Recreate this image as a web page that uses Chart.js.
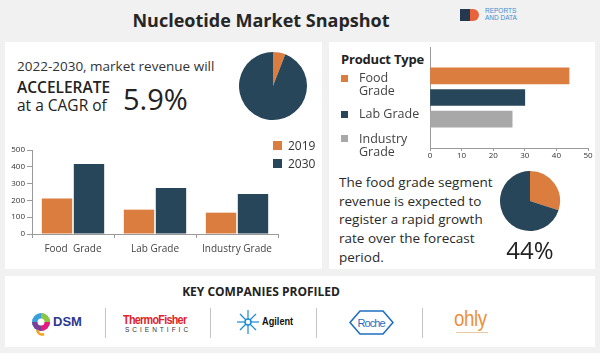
<!DOCTYPE html>
<html>
<head>
<meta charset="utf-8">
<script src="https://cdn.jsdelivr.net/npm/chart.js@4.4.0/dist/chart.umd.min.js"></script>
<style>
	html, body { margin: 0; padding: 0; }
	body { width: 600px; height: 353px; background: #f1f1f1; position: relative; overflow: hidden; font-family: 'Open Sans', sans-serif; color: #333; }
	.abs { position: absolute; }
	.panel { position: absolute; background: #fff; }
	.title { left: 0; width: 522px; top: 8px; text-align: center; font-size: 18px; font-weight: 700; color: #262626; }
	.lead { left: 17px; top: 57px; font-size: 13.5px; color: #333; }
	.accel { left: 17px; top: 78px; font-size: 15.5px; line-height: 18px; color: #222; font-weight: 600; }
	.big { left: 123px; top: 79px; font-size: 29px; color: #222; }
	.leg-sq { position: absolute; width: 9px; height: 9px; }
	.leg-tx { position: absolute; font-size: 12px; color: #333; }
	.pt-head { left: 341px; top: 50px; font-size: 13px; font-weight: 700; color: #222; letter-spacing: -0.2px; }
	.pt-sq { position: absolute; width: 7px; height: 7px; }
	.pt-tx { position: absolute; left: 359px; font-size: 12.5px; line-height: 12.5px; color: #444; }
	.para { left: 339px; top: 173px; width: 165px; font-size: 13.5px; line-height: 18.7px; color: #2a2a2a; }
	.pct { left: 500px; top: 233px; width: 60px; text-align: center; font-size: 24px; color: #222; }
	.kc { left: 0; width: 522px; top: 283px; text-align: center; font-size: 12px; font-weight: 700; color: #222; }
	.div { position: absolute; top: 308px; width: 1px; height: 30px; background: #c4c4c4; }
</style>
</head>
<body>
<div class="abs title">Nucleotide Market Snapshot</div>
<div class="abs" style="left:460px;top:9px;width:10px;height:12px;background:#24384f;"></div>
<div class="abs" style="left:470px;top:9px;width:9px;height:12px;background:#e8623b;border-radius:0 6px 6px 0;"></div>
<div class="abs" style="left:485px;top:7px;font-family:'Liberation Sans',sans-serif;font-size:6.5px;line-height:7px;color:#3d8fd1;">REPORTS<br>AND DATA</div>

<div class="panel" style="left:5px;top:42px;width:317px;height:227px;"></div>
<div class="panel" style="left:329px;top:42px;width:266px;height:227px;"></div>
<div class="panel" style="left:5px;top:276px;width:590px;height:71px;"></div>

<div class="abs lead">2022-2030, market revenue will</div>
<div class="abs accel">ACCELERATE<br><span style="font-weight:400">at a CAGR of</span></div>
<div class="abs big">5.9%</div>
<canvas id="pieCagr" class="abs" style="left:238px;top:51px;" width="70" height="70"></canvas>

<canvas id="barGrade" class="abs" style="left:0px;top:140px;" width="290" height="128"></canvas>
<div class="leg-sq" style="left:273px;top:141px;background:#da7d3e;"></div>
<div class="leg-tx" style="left:288px;top:137px;">2019</div>
<div class="leg-sq" style="left:273px;top:159px;background:#28465a;"></div>
<div class="leg-tx" style="left:288px;top:155px;">2030</div>

<div class="abs pt-head">Product Type</div>
<div class="pt-sq" style="left:341px;top:75px;background:#da7d3e;"></div>
<div class="pt-tx" style="top:72px;">Food<br>Grade</div>
<div class="pt-sq" style="left:341px;top:111px;background:#28465a;"></div>
<div class="pt-tx" style="top:108px;">Lab Grade</div>
<div class="pt-sq" style="left:341px;top:135px;background:#a8a8a8;"></div>
<div class="pt-tx" style="top:133px;">Industry<br>Grade</div>
<canvas id="barShare" class="abs" style="left:420px;top:42px;" width="175" height="120"></canvas>

<div class="abs para">The food grade segment revenue is expected to register a rapid growth rate over the forecast period.</div>
<canvas id="pieFood" class="abs" style="left:499px;top:170px;" width="62" height="62"></canvas>
<div class="abs pct">44%</div>

<div class="abs kc">KEY COMPANIES PROFILED</div>
<div class="div" style="left:105px;"></div>
<div class="div" style="left:210px;"></div>
<div class="div" style="left:316px;"></div>
<div class="div" style="left:422px;"></div>

<!-- DSM -->
<svg class="abs" style="left:30px;top:310px;" width="22" height="26" viewBox="0 0 22 26">
	<circle cx="11" cy="12" r="9" fill="#3aa0dc"/>
	<path d="M11 3 A9 9 0 0 1 20 12 L11 12 Z" fill="#8dc63f"/>
	<path d="M20 12 A9 9 0 0 1 11 21 L11 12 Z" fill="#e6197e"/>
	<path d="M11 21 A9 9 0 0 1 2 12 L11 12 Z" fill="#7b3f98"/>
	<circle cx="11" cy="12" r="3.5" fill="#fff"/>
	<path d="M7 20 Q9 26 14 24" stroke="#f7a21b" stroke-width="2.5" fill="none"/>
</svg>
<div class="abs" style="left:53px;top:314px;font-family:'Liberation Sans',sans-serif;font-size:13px;font-weight:700;color:#2b3990;">DSM</div>
<!-- Thermo Fisher -->
<div class="abs" style="left:123px;top:313px;font-family:'Liberation Sans',sans-serif;font-size:12px;font-weight:700;color:#e2232a;letter-spacing:-0.8px;transform:scaleX(0.9);transform-origin:left;">ThermoFisher</div>
<div class="abs" style="left:125px;top:326px;font-family:'Liberation Sans',sans-serif;font-size:6.5px;color:#333;letter-spacing:3px;">SCIENTIFIC</div>
<!-- Agilent -->
<svg class="abs" style="left:237px;top:310px;" width="22" height="24" viewBox="0 0 22 24">
	<g stroke="#1a8ad4" stroke-width="1.2">
		<line x1="11" y1="0" x2="11" y2="24"/><line x1="0" y1="12" x2="22" y2="12"/>
		<line x1="3" y1="4" x2="19" y2="20"/><line x1="19" y1="4" x2="3" y2="20"/>
	</g>
	<circle cx="11" cy="12" r="3" fill="#fff" stroke="#1a8ad4" stroke-width="1.5"/>
</svg>
<div class="abs" style="left:262px;top:315px;font-family:'Liberation Sans',sans-serif;font-size:11.5px;font-weight:700;color:#111;transform:scaleX(0.8);transform-origin:left;">Agilent</div>
<!-- Roche -->
<svg class="abs" style="left:349px;top:310px;" width="45" height="25" viewBox="0 0 45 25">
	<polygon points="1,12.5 11,1 34,1 44,12.5 34,24 11,24" fill="#fff" stroke="#1e6fc0" stroke-width="1.6"/>
	<text x="22.5" y="17" text-anchor="middle" font-family="Liberation Sans, sans-serif" font-size="11" textLength="28" fill="#1e6fc0">Roche</text>
</svg>
<!-- ohly -->
<div class="abs" style="left:454px;top:306px;font-family:'Liberation Sans',sans-serif;font-size:22px;color:#ec913d;letter-spacing:-0.5px;transform:scaleX(0.85);transform-origin:left;">ohly</div>
<div class="abs" style="left:456px;top:332px;width:32px;height:1px;background:#e8c9a8;"></div>

<script>
// values
const cagrShare = [5.9, 94.1];
const gradeCategories = ['Food  Grade', 'Lab Grade', 'Industry Grade'];
const revenue2019 = [212, 145, 127];
const revenue2030 = [417, 274, 238];
const yTicks = [0, 100, 200, 300, 400, 500];
const shareCategories = ['Food Grade', 'Lab Grade', 'Industry Grade'];
const shareValues = [44, 30, 26];
const shareTicks = [0, 10, 20, 30, 40, 50];
const foodShare = [30, 70];

const ORANGE = '#da7d3e';
const NAVY = '#28465a';
const GREY = '#a8a8a8';
const AXIS = '#9a9a9a';

Chart.defaults.font.family = "'Open Sans', sans-serif";
Chart.defaults.animation = false;
Chart.defaults.plugins.legend.display = false;
Chart.defaults.plugins.tooltip.enabled = false;

function pie(id, values)
{
	new Chart(document.getElementById(id).getContext('2d'),
	{
		type: 'pie',
		data: { datasets: [{ data: values, backgroundColor: [ORANGE, NAVY], borderWidth: 0 }] },
		options: { responsive: false, layout: { padding: 1 } }
	});
}

pie('pieCagr', cagrShare);
pie('pieFood', foodShare);

new Chart(document.getElementById('barGrade').getContext('2d'),
{
	type: 'bar',
	data:
	{
		labels: gradeCategories,
		datasets:
		[
			{ label: '2019', data: revenue2019, backgroundColor: ORANGE },
			{ label: '2030', data: revenue2030, backgroundColor: NAVY }
		]
	},
	options:
	{
		responsive: false,
		layout: { padding: { left: 6, right: 12, top: 10, bottom: 0 } },
		datasets: { bar: { categoryPercentage: 0.78, barPercentage: 0.95 } },
		scales:
		{
			x:
			{
				grid: { offset: true, drawOnChartArea: false, tickLength: 4, color: AXIS },
				border: { color: AXIS },
				ticks: { color: '#444', font: { size: 10 }, padding: 5, maxRotation: 0 },
				afterFit: s => { s.height = 34; }
			},
			y:
			{
				min: 0, max: 500,
				afterBuildTicks: s => { s.ticks = yTicks.map(v => ({ value: v })); },
				grid: { drawOnChartArea: false, tickLength: 5, color: AXIS },
				border: { color: AXIS },
				ticks: { color: '#333', font: { size: 8 }, padding: 2 },
				afterFit: s => { s.width = 26; }
			}
		}
	}
});

new Chart(document.getElementById('barShare').getContext('2d'),
{
	type: 'bar',
	data:
	{
		datasets:
		[{
			data: shareValues.map((v, i) => ({ x: v, y: i + 1 })),
			backgroundColor: [ORANGE, NAVY, GREY],
			barThickness: 16
		}]
	},
	options:
	{
		responsive: false,
		indexAxis: 'y',
		layout: { padding: { left: 9, right: 7, top: 5, bottom: 0 } },
		scales:
		{
			x:
			{
				min: 0, max: 50,
				afterBuildTicks: s => { s.ticks = shareTicks.map(v => ({ value: v })); },
				grid: { drawOnChartArea: false, tickLength: 3, color: AXIS },
				border: { color: AXIS },
				ticks: { color: '#333', font: { size: 8 }, padding: 0 },
				afterFit: s => { s.height = 14; }
			},
			y:
			{
				type: 'linear', reverse: true,
				min: 0.125, max: 3.875,
				grid: { display: false },
				border: { color: AXIS },
				ticks: { display: false },
				afterFit: s => { s.width = 1; }
			}
		}
	}
});
</script>
</body>
</html>
